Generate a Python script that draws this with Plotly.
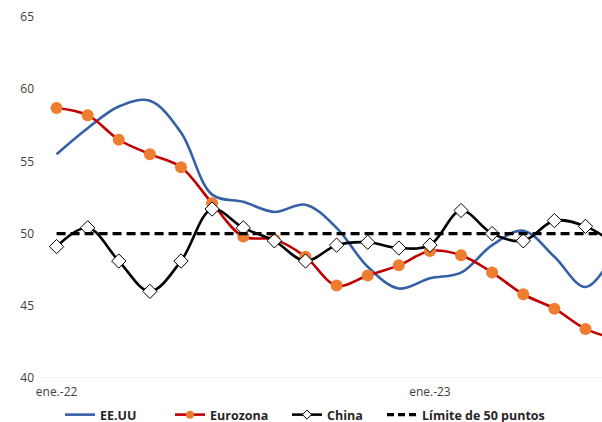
import plotly.graph_objects as go

months = ["ene.-22", "feb.-22", "mar.-22", "abr.-22", "may.-22", "jun.-22", "jul.-22",
          "ago.-22", "sep.-22", "oct.-22", "nov.-22", "dic.-22", "ene.-23", "feb.-23",
          "mar.-23", "abr.-23", "may.-23", "jun.-23", "jul.-23"]
eeuu = [55.5, 57.3, 58.8, 59.2, 57.0, 52.7, 52.2, 51.5, 52.0, 50.4, 47.7, 46.2,
        46.9, 47.3, 49.2, 50.2, 48.4, 46.3, 49.0]
eurozona = [58.7, 58.2, 56.5, 55.5, 54.6, 52.1, 49.8, 49.6, 48.4, 46.4, 47.1, 47.8,
            48.8, 48.5, 47.3, 45.8, 44.8, 43.4, 42.7]
china = [49.1, 50.4, 48.1, 46.0, 48.1, 51.7, 50.4, 49.5, 48.1, 49.2, 49.4, 49.0,
         49.2, 51.6, 50.0, 49.5, 50.9, 50.5, 49.2]
limite = [50] * len(months)
tick_labels = ["ene.-22", "ene.-23"]
yticks = [40, 45, 50, 55, 60, 65]

x = list(range(len(months)))

BLUE = "#3560A6"
RED = "#C00000"
ORANGE = "#ED7D31"

fig = go.Figure()
fig.add_trace(go.Scatter(
    x=x, y=eeuu, name="EE.UU", mode="lines", showlegend=False,
    line=dict(color=BLUE, width=2.6, shape="spline", smoothing=1.0)))
fig.add_trace(go.Scatter(
    x=x, y=eurozona, name="Eurozona", mode="lines+markers", showlegend=False,
    line=dict(color=RED, width=2.6, shape="spline", smoothing=1.0),
    marker=dict(symbol="circle", size=12, color=ORANGE, line=dict(width=0))))
fig.add_trace(go.Scatter(
    x=x, y=china, name="China", mode="lines+markers", showlegend=False,
    line=dict(color="#000000", width=2.6, shape="spline", smoothing=1.0),
    marker=dict(symbol="diamond", size=11, color="#FFFFFF",
                line=dict(color="#000000", width=1))))
fig.add_trace(go.Scatter(
    x=x, y=limite, name="Límite de 50 puntos", mode="lines", showlegend=False,
    line=dict(color="#000000", width=3.2, dash="9px,5px")))

# legend entries (one legend per entry, to place them like the reference)
fig.add_trace(go.Scatter(x=[None], y=[None], name="EE.UU", mode="lines", legend="legend",
                         line=dict(color=BLUE, width=2.6)))
fig.add_trace(go.Scatter(x=[None], y=[None], name="Eurozona", mode="lines+markers",
                         legend="legend2", line=dict(color=RED, width=2.6),
                         marker=dict(symbol="circle", size=8, color=ORANGE, line=dict(width=0))))
fig.add_trace(go.Scatter(x=[None], y=[None], name="China", mode="lines+markers",
                         legend="legend3", line=dict(color="#000000", width=2.6),
                         marker=dict(symbol="diamond", size=7, color="#FFFFFF",
                                     line=dict(color="#000000", width=1))))
fig.add_trace(go.Scatter(x=[None], y=[None], name="Límite de 50 puntos", mode="lines",
                         legend="legend4", line=dict(color="#000000", width=3.2, dash="7px,4px")))

L, W = 41, 561
def leg(px):
    return dict(orientation="h", xref="paper", yref="container",
                x=(px - L) / W, xanchor="left", y=(422 - 415) / 422, yanchor="middle",
                font=dict(size=12.5, color="#262626", family="Open Sans, sans-serif",
                          weight="bold"),
                bgcolor="rgba(0,0,0,0)", borderwidth=0)

fig.update_layout(
    width=602, height=422,
    margin=dict(l=L, r=0, t=17, b=44, autoexpand=False),
    paper_bgcolor="white", plot_bgcolor="white",
    font=dict(family="Open Sans, sans-serif", size=12, color="#404040"),
    showlegend=True,
    legend=leg(60), legend2=leg(170), legend3=leg(287), legend4=leg(382),
    xaxis=dict(range=[-0.5, 17.53], tickvals=[0, 12], ticktext=tick_labels,
               showgrid=False, zeroline=False, showline=False, ticks="",
               automargin=False, ticklabelstandoff=5,
               tickfont=dict(size=12, color="#404040")),
    yaxis=dict(range=[40, 65], tickvals=yticks, showgrid=False, zeroline=False,
               showline=False, ticks="", ticklabelstandoff=6, automargin=False,
               tickfont=dict(size=12, color="#404040")),
    shapes=[dict(type="line", xref="paper", yref="y", x0=0, x1=1, y0=40, y1=40,
                 line=dict(color="#E0E0E0", width=1), layer="below")],
)

fig.write_html("out.html", config={"displayModeBar": False},
               post_script="document.body.style.margin='0px';document.body.style.overflow='hidden';")
